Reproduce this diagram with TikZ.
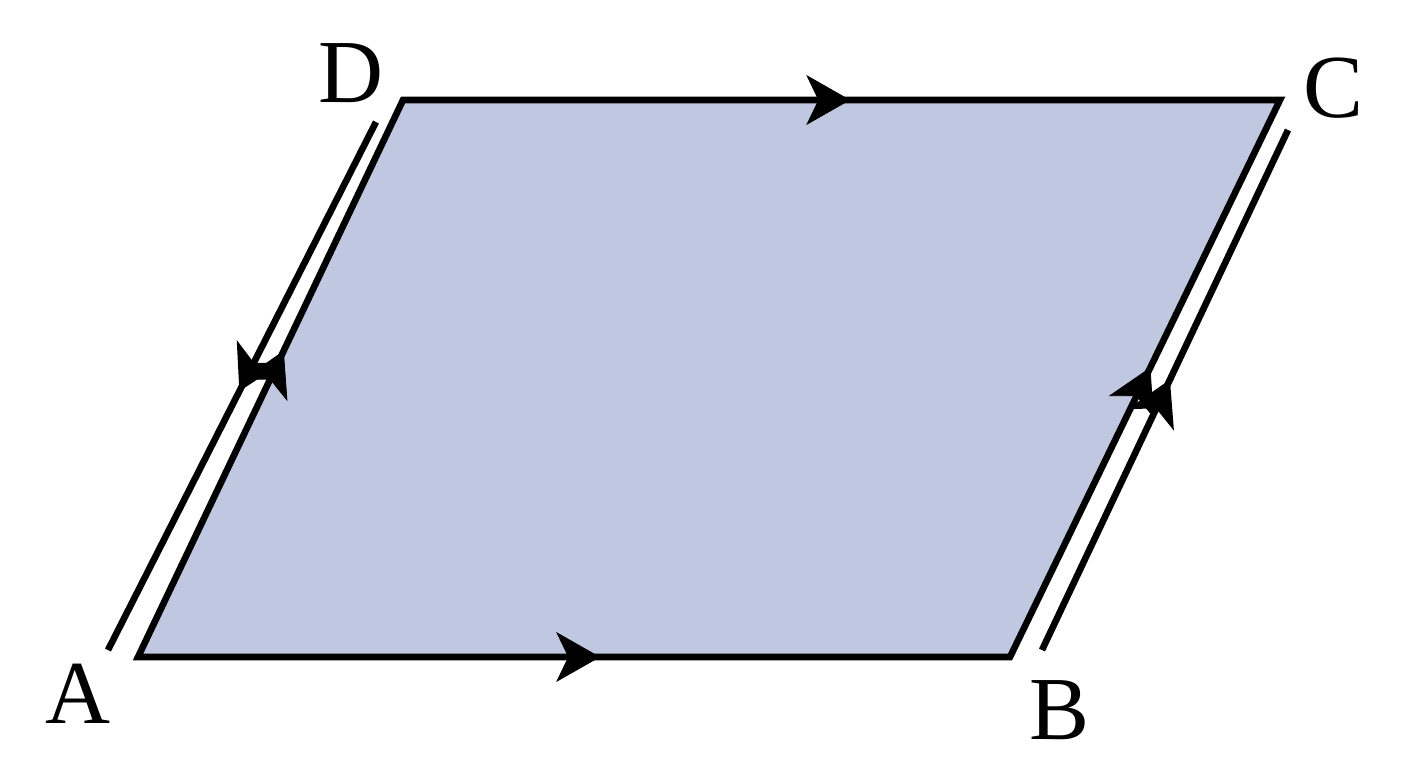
\documentclass[tikz,border=0pt]{standalone}
\usepackage{fontspec}
\setmainfont{Liberation Serif}
\usetikzlibrary{arrows.meta,decorations.markings}
\definecolor{fillpar}{RGB}{192,200,225}
\tikzset{
  edge/.style={line width=3.3pt,black},
  arr/.tip={Stealth[length=22pt,width=25pt,inset=6pt]},
  markat/.style={postaction={decorate},decoration={markings,mark=at position #1 with {\arrow{arr}}}},
  lbl/.style={font=\fontsize{45pt}{50pt}\selectfont,inner sep=0pt}
}
\begin{document}
\begin{tikzpicture}[x=0.5pt,y=-0.5pt]
\useasboundingbox (0,0) rectangle (1408,768);
\coordinate (A) at (138,657);
\coordinate (B) at (1010,657);
\coordinate (C) at (1280,100);
\coordinate (D) at (403,100);
\coordinate (L1) at (108,650);
\coordinate (L2) at (376,122);
\coordinate (R1) at (1042,650);
\coordinate (R2) at (1288,130);
\fill[fillpar] (A) -- (B) -- (C) -- (D) -- cycle;
\draw[edge,line join=miter] (A) -- (B) -- (C) -- (D) -- cycle;
\path[markat=0.53] (A) -- (B);
\path[markat=0.51] (D) -- (C);
\path[markat=0.52] (B) -- (C);
\path[markat=0.55] (A) -- (D);
\draw[edge,markat=0.52] (R1) -- (R2);
\draw[edge,markat=0.51] (L2) -- (L1);
\node[lbl] (la) at (78,694) {A};
\node[lbl] (lb) at (1060,710) {B};
\node[lbl] (lc) at (1333,88) {C};
\node[lbl] (ld) at (351,73) {D};
\end{tikzpicture}
\end{document}
